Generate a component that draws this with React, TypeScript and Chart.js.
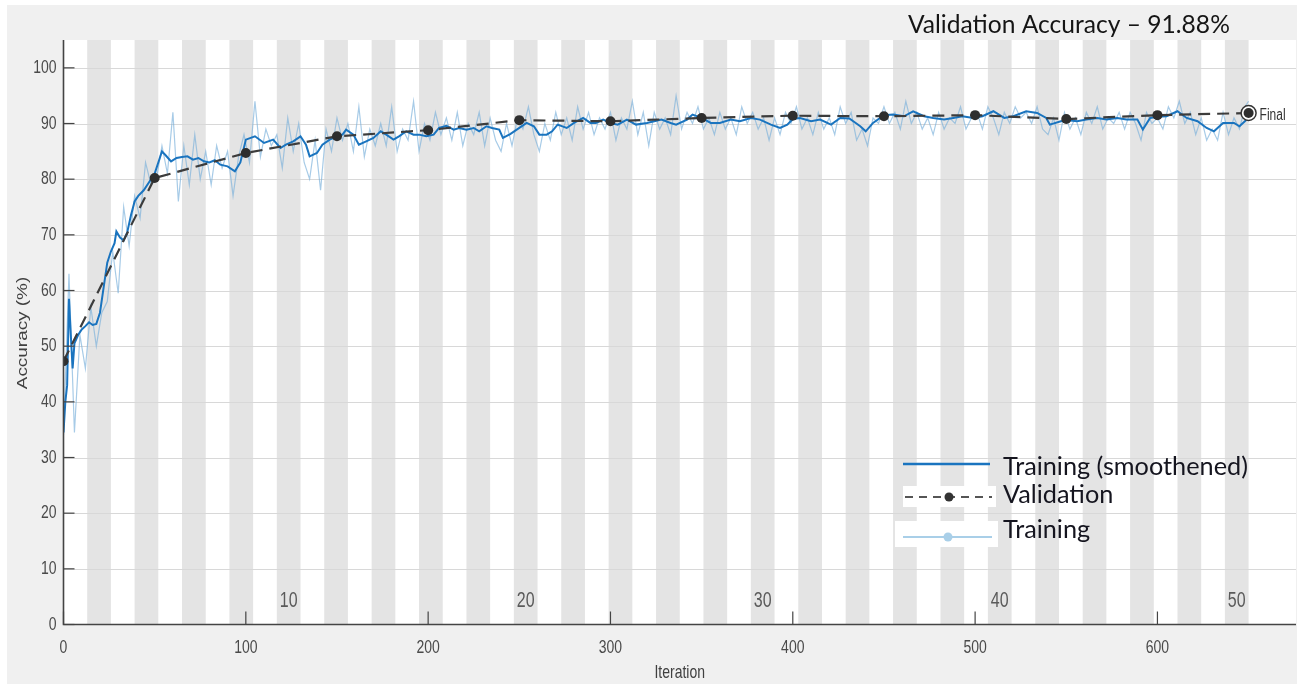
import React, { useEffect, useRef } from "react";
import { Chart, registerables } from "chart.js";
Chart.register(...registerables);

const W = 1303;
const H = 684;

const TITLE = "Validation Accuracy – 91.88%";
const X_LABEL = "Iteration";
const Y_LABEL = "Accuracy (%)";
const LEGEND_LABELS = ["Training (smoothened)", "Validation", "Training"];
const FINAL_LABEL = "Final";

const X_TICKS = [0, 100, 200, 300, 400, 500, 600];
const Y_TICKS = [0, 10, 20, 30, 40, 50, 60, 70, 80, 90, 100];
const EPOCH_LABELS = [10, 20, 30, 40, 50];
const EPOCH_COUNT = 50;
const ITERS_PER_EPOCH = 13;
const X_MAX = 676;
const Y_MAX = 105;

const VAL_ITER = [0, 50, 100, 150, 200, 250, 300, 350, 400, 450, 500, 550, 600, 650];
const VAL_ACC = [47.3, 80.2, 84.7, 87.7, 88.8, 90.6, 90.4, 91.0, 91.4, 91.3, 91.5, 90.8, 91.5, 91.88];

const SMOOTH_ITER = [
  0, 1, 2, 3, 4, 5, 6, 8, 10, 12, 14, 16, 18, 20, 22, 24, 26, 28, 29, 31,
  33, 35, 37, 39, 41, 44, 47, 50, 52, 54, 56, 59, 62, 65, 68, 71, 74, 77, 80, 83,
  86, 90, 94, 97, 100, 105, 110, 115, 119, 122, 126, 130, 133, 135, 139, 142, 146, 150, 153, 155,
  159, 162, 166, 170, 174, 177, 181, 184, 188, 192, 195, 199, 203, 206, 210, 214, 217, 221, 225, 228,
  232, 235, 239, 241, 245, 250, 254, 258, 261, 265, 268, 271, 276, 280, 285, 289, 292, 296, 300, 304,
  309, 314, 320, 324, 328, 333, 336, 342, 345, 350, 355, 360, 366, 371, 377, 382, 388, 393, 397, 400,
  404, 410, 415, 421, 426, 431, 437, 440, 444, 450, 455, 461, 466, 472, 477, 483, 488, 493, 499, 504,
  510, 516, 521, 528, 534, 539, 541, 547, 551, 556, 561, 567, 572, 578, 583, 589, 592, 596, 600, 605,
  611, 616, 622, 627, 631, 636, 642, 645, 649, 650,
];
const SMOOTH_ACC = [
  34.5, 40, 43, 58.5, 52, 46, 50.5, 52, 53, 53.6, 54.3, 53.8, 54, 56, 60.5, 65, 67, 68.5, 70.6, 69.5,
  69, 70.5, 73.5, 76, 77, 78, 79.5, 81, 83, 85, 84.3, 83.2, 83.8, 84, 84.1, 83.5, 83.8, 83.2, 83, 83.4,
  82.6, 82.3, 81.4, 83, 87.1, 87.7, 86.5, 87.1, 85.6, 86.2, 86.8, 87.7, 86.2, 84.1, 84.7, 86.2, 87.1, 87.7, 88, 88.9,
  88, 86.2, 86.8, 87.4, 88.6, 88, 87.1, 87.7, 88.6, 88, 88, 87.7, 88, 89.2, 89.6, 88.9, 89.2, 88.9, 89.2, 88.6,
  89.5, 89.2, 88.9, 87.4, 88.1, 89.2, 90.1, 89.5, 88, 88, 88.6, 89.8, 89.2, 90.1, 91, 90.1, 90.1, 90.7, 90.1, 89.8,
  90.7, 89.8, 90.1, 90.4, 90.7, 90.1, 89.8, 90.7, 91.6, 91, 90.1, 90.1, 90.7, 90.4, 91, 90.7, 89.8, 89.2, 89.8, 90.8,
  91, 90.4, 90.7, 89.8, 91, 90.9, 89.5, 88.6, 90.1, 91.5, 91.6, 91.3, 92.2, 91.3, 91, 90.7, 91, 91.3, 91, 91.3,
  92.2, 91, 91.3, 92.2, 91.9, 91, 89.8, 90.4, 90.6, 90.4, 90.7, 91, 90.7, 91, 90.7, 90.7, 88.9, 91, 91.2, 91.3,
  92.2, 91, 90.4, 89.2, 88.6, 90.1, 90.1, 89.5, 90.7, 91,
];

const RAW_ITER = [
  0, 3, 6, 9, 12, 15, 18, 21, 24, 27,
  30, 33, 36, 39, 42, 45, 48, 51, 54, 57,
  60, 63, 66, 69, 72, 75, 78, 81, 84, 87,
  90, 93, 96, 99, 102, 105, 108, 111, 114, 117,
  120, 123, 126, 129, 132, 135, 138, 141, 144, 147,
  150, 153, 156, 159, 162, 165, 168, 171, 174, 177,
  180, 183, 186, 189, 192, 195, 198, 201, 204, 207,
  210, 213, 216, 219, 222, 225, 228, 231, 234, 237,
  240, 243, 246, 249, 252, 255, 258, 261, 264, 267,
  270, 273, 276, 279, 282, 285, 288, 291, 294, 297,
  300, 303, 306, 309, 312, 315, 318, 321, 324, 327,
  330, 333, 336, 339, 342, 345, 348, 351, 354, 357,
  360, 363, 366, 369, 372, 375, 378, 381, 384, 387,
  390, 393, 396, 399, 402, 405, 408, 411, 414, 417,
  420, 423, 426, 429, 432, 435, 438, 441, 444, 447,
  450, 453, 456, 459, 462, 465, 468, 471, 474, 477,
  480, 483, 486, 489, 492, 495, 498, 501, 504, 507,
  510, 513, 516, 519, 522, 525, 528, 531, 534, 537,
  540, 543, 546, 549, 552, 555, 558, 561, 564, 567,
  570, 573, 576, 579, 582, 585, 588, 591, 594, 597,
  600, 603, 606, 609, 612, 615, 618, 621, 624, 627,
  630, 633, 636, 639, 642, 645, 648, 650,
];
const RAW_ACC = [
  34, 63, 34.5, 52, 46, 57, 50, 56, 58, 67,
  59.5, 75, 68, 77, 73, 83, 79, 80, 86, 81,
  92, 76, 86, 79, 88, 80, 85, 79, 86, 82,
  85, 77, 84, 88, 83, 94, 84, 89, 86, 88,
  82, 91, 85, 90, 83, 80, 87, 78, 89, 85,
  91, 87, 90, 85, 93, 84, 89, 86, 90, 86,
  93, 85, 89, 87, 94, 85, 90, 87, 92, 88,
  91, 87, 92, 86, 90, 88, 92, 86, 91, 87,
  85, 90, 86, 91, 89, 93, 88, 85, 90, 87,
  92, 88, 91, 87, 93, 89, 92, 88, 91, 89,
  92, 87, 91, 89, 94, 88, 92, 86, 92, 89,
  91, 88, 95, 89, 92, 90, 93, 89, 91, 88,
  92, 89, 91, 88, 93, 90, 92, 89, 91, 87,
  91, 88, 92, 90, 93, 89, 91, 88, 92, 89,
  91, 88, 93, 90, 92, 87, 89, 86, 91, 90,
  93, 90, 92, 89, 94, 90, 92, 89, 91, 88,
  92, 89, 91, 90, 93, 89, 91, 92, 89, 93,
  91, 88, 92, 90, 93, 91, 92, 90, 93, 89,
  88, 91, 87, 92, 89, 91, 88, 92, 90, 93,
  89, 91, 90, 92, 89, 92, 90, 87, 92, 90,
  91, 89, 93, 91, 94, 90, 92, 88, 91, 87,
  89, 87, 92, 88, 91, 89, 93, 94,
];

const C_SMOOTH = "#1a74bf";
const C_RAW = "rgba(120,175,218,0.65)";
const C_VAL = "#3c3c3c";
const C_PANEL = "#f0f0f0";
const C_BAND = "#e4e4e4";
const C_GRID = "#d8d8d8";
const C_AXIS = "#444444";
const C_TICKTEXT = "#4a4a4a";

const SANS = "'Liberation Sans', Arial, sans-serif";
const PASTE = "Lato, 'Open Sans', sans-serif";

function pts(xs: number[], ys: number[]) {
  return xs.map((x, i) => ({ x, y: ys[i] }));
}

function stretchText(
  ctx: CanvasRenderingContext2D, text: string, x: number, y: number,
  font: string, align: CanvasTextAlign, color: string, sy = 1.3, rot = 0
) {
  ctx.save();
  ctx.translate(x, y);
  if (rot) ctx.rotate(rot);
  if (rot) ctx.scale(sy, 1); else ctx.scale(1, sy);
  ctx.font = font;
  ctx.textAlign = align;
  ctx.textBaseline = "middle";
  ctx.fillStyle = color;
  ctx.fillText(text, 0, 0);
  ctx.restore();
}

function fitFont(ctx: CanvasRenderingContext2D, text: string, family: string, width: number) {
  ctx.font = `100px ${family}`;
  const w = ctx.measureText(text).width;
  return (100 * width) / w;
}

const decorPlugin = {
  id: "decor",
  beforeDraw(chart: any) {
    const { ctx, chartArea: a, scales } = chart;
    const xs = scales.x;
    const ys = scales.y;
    ctx.save();
    ctx.fillStyle = "#ffffff";
    ctx.fillRect(0, 0, W, H);
    ctx.fillStyle = C_PANEL;
    ctx.fillRect(7, 5, 1290, H - 5);
    ctx.fillStyle = "#ffffff";
    ctx.fillRect(a.left, a.top, a.right - a.left, a.bottom - a.top);
    ctx.fillStyle = C_BAND;
    for (let k = 2; k <= EPOCH_COUNT; k += 2) {
      const x0 = xs.getPixelForValue((k - 1) * ITERS_PER_EPOCH);
      const x1 = xs.getPixelForValue(k * ITERS_PER_EPOCH);
      ctx.fillRect(x0, a.top, x1 - x0, a.bottom - a.top);
    }
    ctx.fillStyle = "#ffffff";
    ctx.fillRect(903, 486, 93, 21);
    ctx.fillRect(895, 521, 103, 26);
    ctx.strokeStyle = C_GRID;
    ctx.lineWidth = 1;
    for (const t of Y_TICKS) {
      if (t === 0) continue;
      const y = Math.round(ys.getPixelForValue(t)) + 0.5;
      ctx.beginPath();
      ctx.moveTo(a.left, y);
      ctx.lineTo(a.right, y);
      ctx.stroke();
    }
    ctx.restore();
  },
  afterDatasetsDraw(chart: any) {
    const { ctx, chartArea: a, scales } = chart;
    const xs = scales.x;
    const ys = scales.y;
    ctx.save();
    ctx.strokeStyle = C_AXIS;
    ctx.lineWidth = 1.6;
    ctx.beginPath();
    ctx.moveTo(a.left, a.top);
    ctx.lineTo(a.left, a.bottom);
    ctx.lineTo(a.right, a.bottom);
    ctx.stroke();
    ctx.lineWidth = 1.2;
    for (const t of Y_TICKS) {
      const y = ys.getPixelForValue(t);
      ctx.beginPath();
      ctx.moveTo(a.left, y);
      ctx.lineTo(a.left + 11, y);
      ctx.stroke();
      stretchText(ctx, String(t), a.left - 7, y, `14px ${SANS}`, "right", C_TICKTEXT, 1.35);
    }
    for (const t of X_TICKS) {
      const x = xs.getPixelForValue(t);
      ctx.beginPath();
      ctx.moveTo(x, a.bottom);
      ctx.lineTo(x, a.bottom - 13);
      ctx.stroke();
      stretchText(ctx, String(t), x, a.bottom + 23, `14px ${SANS}`, "center", C_TICKTEXT, 1.35);
    }
    for (const e of EPOCH_LABELS) {
      const x = xs.getPixelForValue((e - 0.5) * ITERS_PER_EPOCH);
      stretchText(ctx, String(e), x, a.bottom - 23, `16px ${SANS}`, "center", "#5a5a5a", 1.35);
    }
    stretchText(ctx, X_LABEL, (a.left + a.right) / 2, 673, `14px ${SANS}`, "center", "#404040", 1.3);
    stretchText(ctx, Y_LABEL, 23, 333, `14px ${SANS}`, "center", "#404040", 1.35, -Math.PI / 2);

    const fx = xs.getPixelForValue(VAL_ITER[VAL_ITER.length - 1]);
    const fy = ys.getPixelForValue(VAL_ACC[VAL_ACC.length - 1]);
    ctx.fillStyle = "#ffffff";
    ctx.strokeStyle = "#333333";
    ctx.lineWidth = 1.5;
    ctx.beginPath();
    ctx.arc(fx, fy, 7.5, 0, Math.PI * 2);
    ctx.fill();
    ctx.stroke();
    ctx.fillStyle = "#2e2e2e";
    ctx.beginPath();
    ctx.arc(fx, fy, 5, 0, Math.PI * 2);
    ctx.fill();
    stretchText(ctx, FINAL_LABEL, fx + 11, fy + 3, `12px ${SANS}`, "left", "#333333", 1.3);

    ctx.lineCap = "butt";
    ctx.strokeStyle = C_SMOOTH;
    ctx.lineWidth = 2.5;
    ctx.beginPath();
    ctx.moveTo(903, 464);
    ctx.lineTo(990, 464);
    ctx.stroke();
    ctx.strokeStyle = "#555555";
    ctx.lineWidth = 2;
    ctx.setLineDash([8, 6]);
    ctx.beginPath();
    ctx.moveTo(905, 497);
    ctx.lineTo(992, 497);
    ctx.stroke();
    ctx.setLineDash([]);
    ctx.fillStyle = "#333333";
    ctx.beginPath();
    ctx.arc(949, 497, 4.5, 0, Math.PI * 2);
    ctx.fill();
    ctx.strokeStyle = "#a9cfe8";
    ctx.lineWidth = 2;
    ctx.beginPath();
    ctx.moveTo(903, 537);
    ctx.lineTo(992, 537);
    ctx.stroke();
    ctx.fillStyle = "#a9cfe8";
    ctx.beginPath();
    ctx.arc(948, 537, 4.5, 0, Math.PI * 2);
    ctx.fill();

    const ls = fitFont(ctx, LEGEND_LABELS[0], PASTE, 245);
    ctx.font = `${ls}px ${PASTE}`;
    ctx.fillStyle = "#15151f";
    ctx.textAlign = "left";
    ctx.textBaseline = "alphabetic";
    ctx.fillText(LEGEND_LABELS[0], 1003, 475);
    ctx.fillText(LEGEND_LABELS[1], 1003, 503);
    ctx.fillText(LEGEND_LABELS[2], 1003, 538);

    const ts = fitFont(ctx, TITLE, PASTE, 322);
    ctx.font = `${ts}px ${PASTE}`;
    ctx.fillStyle = "#151515";
    ctx.fillText(TITLE, 908, 33);
    ctx.restore();
  },
};

export default function App() {
  const ref = useRef<HTMLCanvasElement>(null);
  useEffect(() => {
    const chart = new Chart(ref.current as HTMLCanvasElement, {
      type: "line",
      data: {
        datasets: [
          {
            label: "Validation",
            data: pts(VAL_ITER, VAL_ACC),
            borderColor: C_VAL,
            borderWidth: 2.2,
            borderDash: [12, 7],
            pointRadius: VAL_ITER.map((_, i) => (i === VAL_ITER.length - 1 ? 0 : 5)),
            pointBackgroundColor: "#2e2e2e",
            pointBorderWidth: 0,
            tension: 0,
          },
          {
            label: "Training (smoothened)",
            data: pts(SMOOTH_ITER, SMOOTH_ACC),
            borderColor: C_SMOOTH,
            borderWidth: 2,
            pointRadius: 0,
            tension: 0,
          },
          {
            label: "Training",
            data: pts(RAW_ITER, RAW_ACC),
            borderColor: C_RAW,
            borderWidth: 1.2,
            pointRadius: 0,
            tension: 0,
          },
        ],
      },
      options: {
        responsive: false,
        animation: false,
        events: [],
        layout: { padding: { left: 63.5, top: 40, right: 7, bottom: 59.5 } },
        plugins: { legend: { display: false }, tooltip: { enabled: false }, title: { display: false } },
        scales: {
          x: { type: "linear", min: 0, max: X_MAX, display: false },
          y: { type: "linear", min: 0, max: Y_MAX, display: false },
        },
      },
      plugins: [decorPlugin],
    });
    return () => chart.destroy();
  }, []);
  return (
    <div style={{ position: "absolute", left: 0, top: 0, width: W, height: H }}>
      <canvas ref={ref} width={W} height={H} style={{ display: "block", width: W, height: H }} />
    </div>
  );
}
